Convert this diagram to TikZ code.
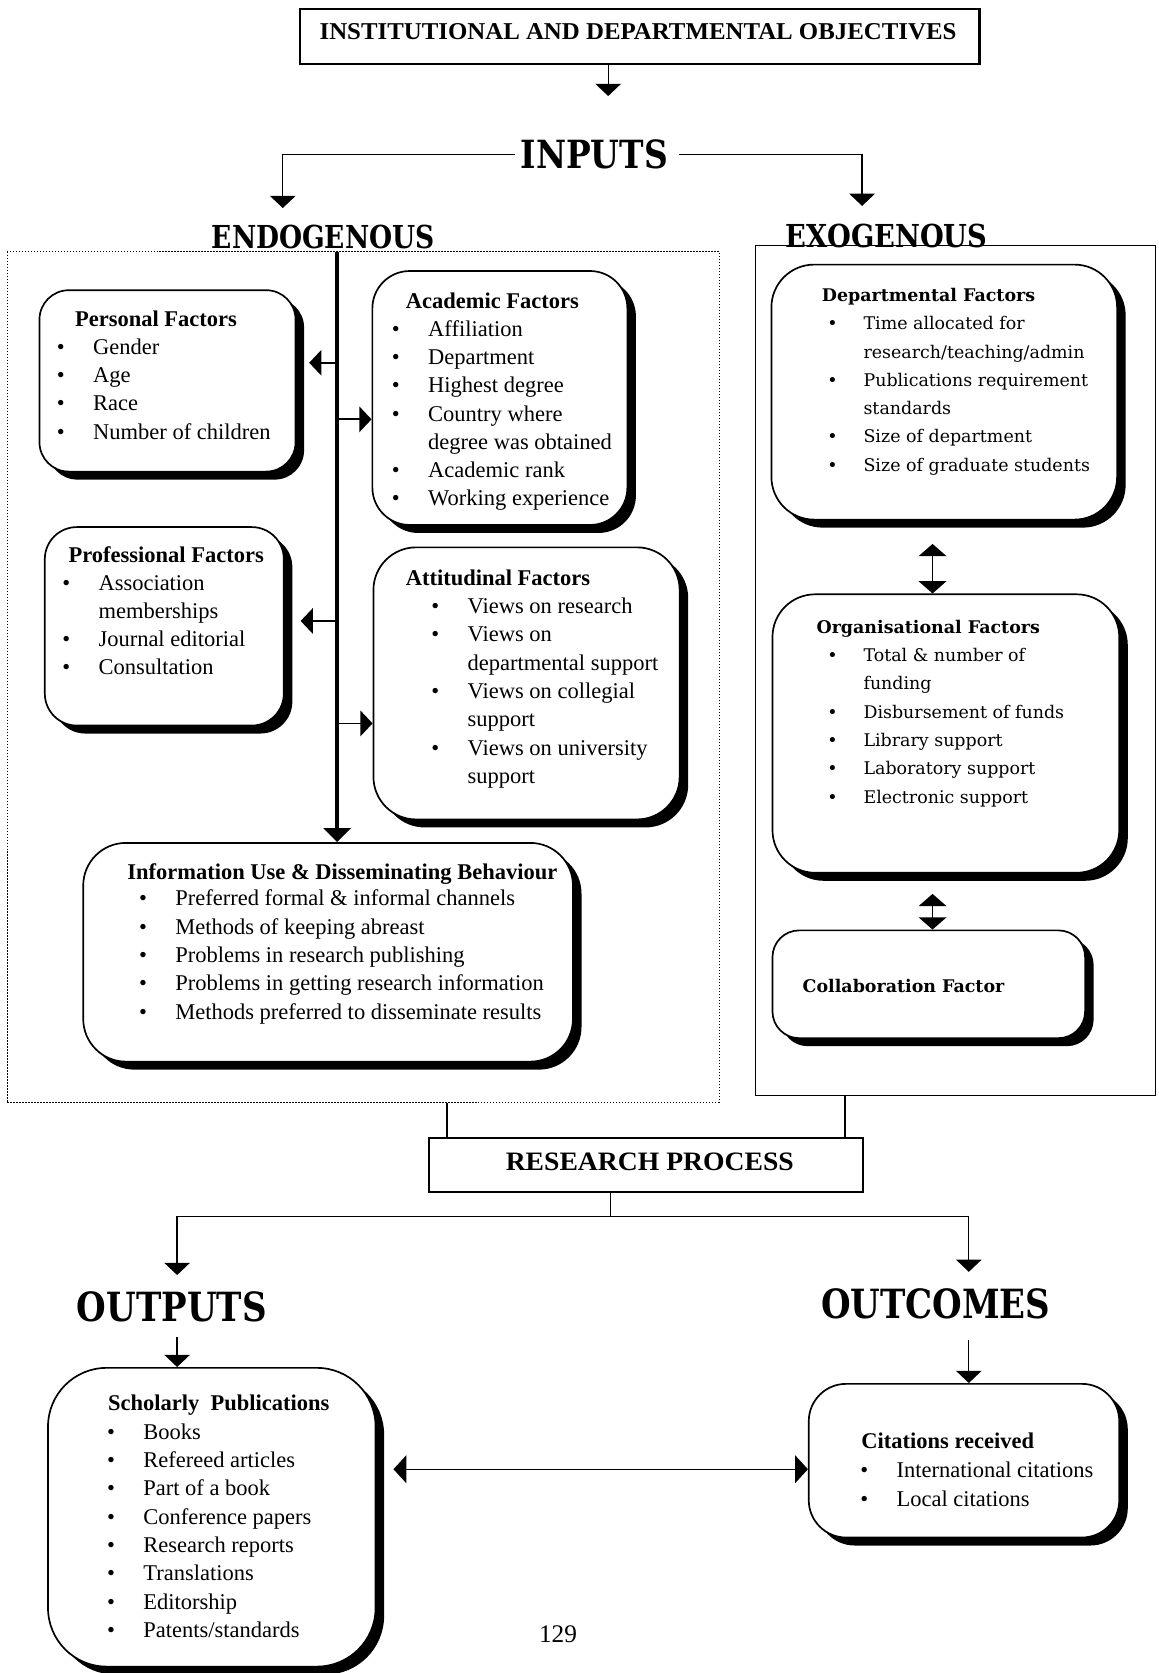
\documentclass[tikz,border=0pt]{standalone}
\usepackage{fontspec}
\setmainfont{Liberation Serif}
\newfontfamily\dvs{DejaVu Serif}
\usepackage{graphicx}
\usetikzlibrary{arrows.meta,shadows,fit,calc}
\newcommand\bi{\textbullet&}
\newcommand\BL[1]{\begin{tabular}[t]{@{}p{0.68cm}@{}l@{}}#1\end{tabular}}
\newcommand\HD[3]{\resizebox{#1}{#2}{\dvs\bfseries #3}}
\tikzset{
 rbox/.style={draw, line width=0.9pt, fill=white, inner sep=0pt, rounded corners=0.6cm,
   drop shadow={shadow xshift=0.16cm, shadow yshift=-0.15cm, fill=black, opacity=1}},
 sqbox/.style={draw, line width=1.1pt, fill=white, inner sep=0pt},
 txt/.style={inner sep=0pt, anchor=base west, font=\fontsize{12}{15.1}\selectfont},
 ttl/.style={inner sep=0pt, anchor=base west, font=\fontsize{12}{15.1}\selectfont\bfseries},
 xtxt/.style={inner sep=0pt, anchor=base west, font=\dvs\fontsize{9.3}{15.1}\selectfont},
 xttl/.style={inner sep=0pt, anchor=base west, font=\dvs\fontsize{9.3}{15.1}\selectfont\bfseries},
 hd/.style={inner sep=0pt, anchor=base},
 ln/.style={line width=0.8pt},
 tip/.style={Triangle[length=0.23cm,width=0.5cm]},
 arr/.style={line width=0.7pt, -{Triangle[length=0.23cm,width=0.48cm]}},
 spine/.style={line width=2.2pt, -{Triangle[length=0.26cm,width=0.5cm]}},
 barr/.style={line width=0.9pt, -{Triangle[length=0.23cm,width=0.48cm]}},
 darr/.style={line width=0.8pt, {Triangle[length=0.23cm,width=0.52cm]}-{Triangle[length=0.23cm,width=0.52cm]}},
 darrh/.style={line width=0.7pt, {Triangle[length=0.24cm,width=0.52cm]}-{Triangle[length=0.24cm,width=0.52cm]}},
}
\begin{document}
\begin{tikzpicture}[x=0.02cm,y=-0.02cm]
\useasboundingbox (0,0) rectangle (1086,1568);

% top objectives
\node[sqbox, fit={(281,8) (918,60)}] (obj) {};
\node[hd] (objt) at (598,37) {\resizebox{11.94cm}{0.3cm}{\bfseries INSTITUTIONAL AND DEPARTMENTAL OBJECTIVES}};
\coordinate (cobj) at (570,90);
\draw[arr] (obj.south -| cobj) -- (cobj);

% inputs
\node[hd] (inputs) at (557,158) {\HD{2.76cm}{0.54cm}{INPUTS}};
\coordinate (cen) at (265,195);
\coordinate (cex) at (808,193);
\draw[arr, shorten <=0.1cm] (inputs.west) -| (cen);
\draw[arr, shorten <=0.2cm] (inputs.east) -| (cex);

% outer boxes
\node[fit={(7,236) (674,1033)}, inner sep=0pt, draw, densely dotted, line width=0.6pt] (endobox) {};
\node[fit={(708,230) (1083,1027)}, inner sep=0pt, draw, line width=0.6pt] (exobox) {};
\node[hd] (endo) at (303,233) {\HD{4.18cm}{0.44cm}{ENDOGENOUS}};
\node[hd] (exo) at (831,232) {\HD{3.78cm}{0.44cm}{EXOGENOUS}};

% endogenous boxes
\node[rbox, rounded corners=0.55cm, fit={(37,272) (277,442)}] (pers) {};
\node[rbox, rounded corners=0.7cm, fit={(349,254) (588,492)}] (acad) {};
\node[rbox, rounded corners=0.6cm, fit={(42,494) (266,680)}] (prof) {};
\node[rbox, rounded corners=0.8cm, fit={(350,513) (637,768)}] (att) {};
\node[rbox, rounded corners=0.8cm, fit={(78,790) (537,995)}] (info) {};

\node[ttl] (perst) at (70,306) {Personal Factors};
\node[txt] (persl) at (53,332) {\BL{\bi Gender\\ \bi Age\\ \bi Race\\ \bi Number of children}};

\node[ttl] (acadt) at (380,289) {Academic Factors};
\node[txt] (acadl) at (367,315) {\BL{\bi Affiliation\\ \bi Department\\ \bi Highest degree\\ \bi Country where\\ & degree was obtained\\ \bi Academic rank\\ \bi Working experience}};

\node[ttl] (proft) at (64,527) {Professional Factors};
\node[txt] (profl) at (58,553) {\BL{\bi Association\\ & memberships\\ \bi Journal editorial\\ \bi Consultation}};

\node[ttl] (attt) at (380,549) {Attitudinal Factors};
\node[txt] (attl) at (404,575) {\BL{\bi Views on research\\ \bi Views on\\ & departmental support\\ \bi Views on collegial\\ & support\\ \bi Views on university\\ & support}};

\node[ttl] (infot) at (119,824) {Information Use \& Disseminating Behaviour};
\node[txt] (infol) at (130,849) {\BL{\bi Preferred formal \& informal channels\\ \bi Methods of keeping abreast\\ \bi Problems in research publishing\\ \bi Problems in getting research information\\ \bi Methods preferred to disseminate results}};

% spine and branches
\coordinate (sp) at (316,236);
\draw[spine] (sp) -- (sp |- info.north);
\coordinate (b1) at (316,340);
\coordinate (b2) at (316,393);
\coordinate (b3) at (316,582);
\coordinate (b4) at (316,678);
\draw[barr, shorten >=0.24cm] (b1) -- (b1 -| pers.east);
\draw[barr] (b2) -- (b2 -| acad.west);
\draw[barr, shorten >=0.3cm] (b3) -- (b3 -| prof.east);
\draw[barr] (b4) -- (b4 -| att.west);

% exogenous boxes
\node[rbox, rounded corners=0.8cm, fit={(723,248) (1047,487)}] (dept) {};
\node[rbox, rounded corners=0.8cm, fit={(724,557) (1049,818)}] (org) {};
\node[rbox, rounded corners=0.5cm, fit={(724,872) (1017,973)}] (coll) {};

\node[xttl] (deptt) at (770,283) {Departmental Factors};
\node[xtxt] (deptl) at (775,309) {\BL{\bi Time allocated for\\ & research/teaching/admin\\ \bi Publications requirement\\ & standards\\ \bi Size of department\\ \bi Size of graduate students}};

\node[xttl] (orgt) at (765,594) {Organisational Factors};
\node[xtxt] (orgl) at (775,620) {\BL{\bi Total \& number of\\ & funding\\ \bi Disbursement of funds\\ \bi Library support\\ \bi Laboratory support\\ \bi Electronic support}};

\node[xttl] (collt) at (752,930) {Collaboration Factor};

\coordinate (ax) at (874,0);
\draw[darr, shorten <=0.44cm] (dept.south -| ax) -- (org.north -| ax);
\draw[darr, shorten <=0.38cm] (org.south -| ax) -- (coll.north -| ax);

% research process
\node[sqbox, fit={(402,1067) (809,1117)}] (rp) {};
\node[hd] (rpt) at (609,1097) {\resizebox{5.4cm}{0.33cm}{\bfseries RESEARCH PROCESS}};
\coordinate (l1) at (419,0);
\coordinate (l2) at (792,0);
\draw[ln] (endobox.south -| l1) -- (rp.north -| l1);
\draw[ln] (exobox.south -| l2) -- (rp.north -| l2);
\coordinate (rpj) at (572,1140);
\coordinate (oa) at (166,1195);
\coordinate (ob) at (908,1192);
\draw[ln] (rp.south -| rpj) -- (rpj);
\draw[arr] (rpj) -| (oa);
\draw[arr] (rpj) -| (ob);

% outputs / outcomes
\node[hd] (outputs) at (161,1239) {\HD{3.56cm}{0.56cm}{OUTPUTS}};
\node[hd] (outcomes) at (877,1236) {\HD{4.3cm}{0.56cm}{OUTCOMES}};

\node[rbox, rounded corners=1.1cm, fit={(45,1282) (352,1562)}] (schol) {};
\node[rbox, rounded corners=0.7cm, fit={(758,1297) (1049,1441)}] (cit) {};

\draw[arr, shorten <=0.26cm] (outputs.south -| oa) -- (schol.north -| oa);
\draw[arr, shorten <=0.38cm] (outcomes.south -| ob) -- (cit.north -| ob);

\node[ttl] (scholt) at (101,1322) {Scholarly~ Publications};
\node[txt] (scholl) at (100,1349) {\BL{\bi Books\\ \bi Refereed articles\\ \bi Part of a book\\ \bi Conference papers\\ \bi Research reports\\ \bi Translations\\ \bi Editorship\\ \bi Patents/standards}};

\node[ttl] (citt) at (807,1358) {Citations received};
\node[txt] (citl) at (806,1385) {\BL{\bi International citations\\ \bi Local citations}};

\draw[darrh, shorten <=0.32cm] (schol.east |- 0,1377) -- (cit.west |- 0,1377);

\node[hd, font=\fontsize{13.5}{16}\selectfont] (pg) at (523,1539) {129};
\end{tikzpicture}
\end{document}
